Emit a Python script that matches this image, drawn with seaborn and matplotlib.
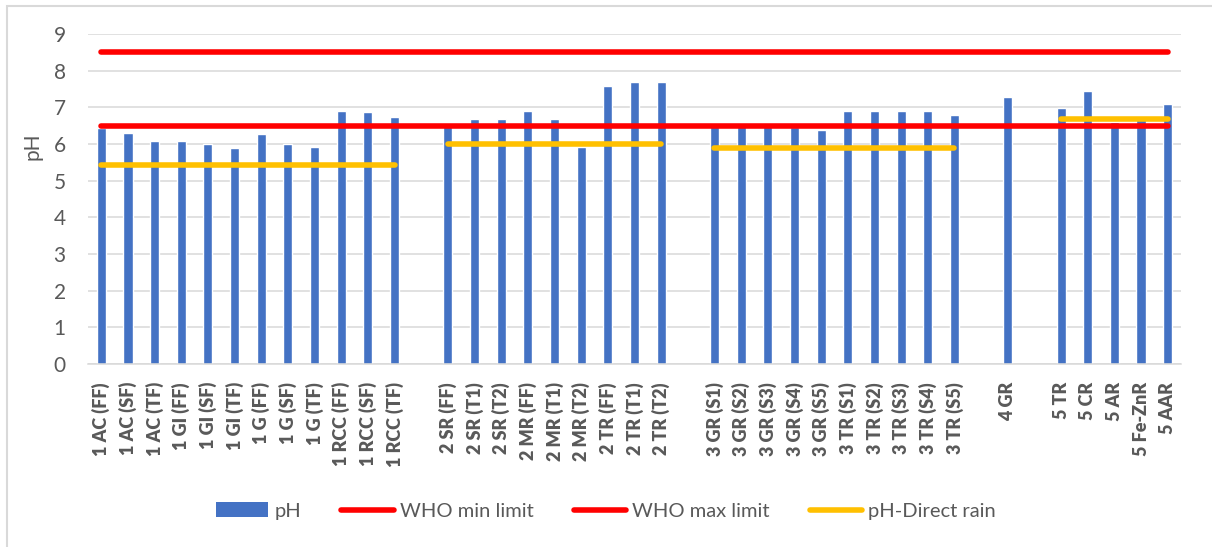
import numpy as np
import pandas as pd
import matplotlib
matplotlib.use("Agg")
import matplotlib.pyplot as plt
import seaborn as sns
from matplotlib.lines import Line2D
from matplotlib.patches import Patch, Rectangle

# Sample names; the blank entries are the gaps between sites
samples = [
    "1 AC (FF)", "1 AC (SF)", "1 AC (TF)", "1 GI (FF)", "1 GI (SF)", "1 GI (TF)",
    "1 G (FF)", "1 G (SF)", "1 G (TF)", "1 RCC (FF)", "1 RCC (SF)", "1 RCC (TF)",
    " ",
    "2 SR (FF)", "2 SR (T1)", "2 SR (T2)", "2 MR (FF)", "2 MR (T1)", "2 MR (T2)",
    "2 TR (FF)", "2 TR (T1)", "2 TR (T2)",
    "  ",
    "3 GR (S1)", "3 GR (S2)", "3 GR (S3)", "3 GR (S4)", "3 GR (S5)",
    "3 TR (S1)", "3 TR (S2)", "3 TR (S3)", "3 TR (S4)", "3 TR (S5)",
    "   ",
    "4 GR",
    "    ",
    "5 TR", "5 CR", "5 AR", "5 Fe-ZnR", "5 AAR",
]

ph = [
    6.43, 6.29, 6.07, 6.09, 6.00, 5.89, 6.28, 5.99, 5.93, 6.91, 6.86, 6.73,
    None,
    6.58, 6.68, 6.68, 6.89, 6.68, 5.91, 7.58, 7.69, 7.69,
    None,
    6.57, 6.57, 6.57, 6.46, 6.39, 6.89, 6.89, 6.89, 6.89, 6.78,
    None,
    7.29,
    None,
    6.98, 7.44, 6.60, 6.76, 7.08,
]

who_min = 6.5
who_max = 8.5

direct_rain = [
    5.44, 5.44, 5.44, 5.44, 5.44, 5.44, 5.44, 5.44, 5.44, 5.44, 5.44, 5.44,
    None,
    6.0, 6.0, 6.0, 6.0, 6.0, 6.0, 6.0, 6.0, 6.0,
    None,
    5.9, 5.9, 5.9, 5.9, 5.9, 5.9, 5.9, 5.9, 5.9, 5.9,
    None,
    None,
    None,
    6.68, 6.68, 6.68, 6.68, 6.68,
]

df = pd.DataFrame({"sample": samples, "pH": ph})
df["pH"] = df["pH"].astype(float)
n = len(samples)
pos = np.arange(n)
rain = np.array([np.nan if v is None else v for v in direct_rain])

sns.set_theme(style="white")
plt.rcParams["font.family"] = ["Lato", "DejaVu Sans"]

W, H = 1212, 547
fig = plt.figure(figsize=(W / 100, H / 100), dpi=100)
ax = fig.add_axes([88 / W, 1 - 364 / H, (1181 - 88) / W, (364 - 34) / H])

grey = "#595959"
blue = "#4472C4"
red = "#FF0000"
yellow = "#FFC000"

sns.barplot(data=df, x="sample", y="pH", order=samples, color=blue,
            saturation=1, width=0.34, ax=ax, zorder=2)

ax.plot(pos, [who_min] * n, color=red, lw=4, solid_capstyle="round", zorder=3)
ax.plot(pos, [who_max] * n, color=red, lw=4, solid_capstyle="round", zorder=3)
ax.plot(pos, rain, color=yellow, lw=4, solid_capstyle="round", zorder=4)

ax.set_xlim(-0.5, n - 0.5)
ax.set_ylim(0, 9)
ax.set_yticks(range(0, 10))
ax.grid(axis="y", color="#D9D9D9", lw=1.1, zorder=0)
ax.set_axisbelow(True)
for s in ["top", "right", "left"]:
    ax.spines[s].set_visible(False)
ax.spines["bottom"].set_color("#D9D9D9")
ax.spines["bottom"].set_linewidth(1.1)

ax.set_xlabel("")
ax.set_ylabel("")
ax.tick_params(axis="x", length=0, pad=13, labelsize=13, labelcolor=grey)
ax.tick_params(axis="y", length=0, pad=16, labelsize=15, labelcolor=grey)
for lbl in ax.get_xticklabels():
    lbl.set_rotation(90)
    lbl.set_fontweight("heavy")

fig.text(32 / W, 1 - 146 / H, "pH", rotation=90, ha="center", va="center",
         fontsize=15, color=grey)

handles = [
    Patch(facecolor=blue, edgecolor="none"),
    Line2D([], [], color=red, lw=4, solid_capstyle="round"),
    Line2D([], [], color=red, lw=4, solid_capstyle="round"),
    Line2D([], [], color=yellow, lw=4, solid_capstyle="round"),
]
names = ["pH", "WHO min limit", "WHO max limit", "pH-Direct rain"]
fig.legend(handles, names, loc="center", bbox_to_anchor=(0.5, 1 - 511 / H),
           ncol=4, frameon=False, fontsize=14.5, labelcolor=grey,
           handlelength=2.6, handletextpad=0.3, columnspacing=2.0)

# light frame around the chart area
fig.patches.append(Rectangle((7 / W, -0.05), 1.1, 1 - 5.5 / H + 0.05,
                             transform=fig.transFigure, fill=False,
                             edgecolor="#D9D9D9", lw=1.5))

fig.savefig("out.png", dpi=100)
